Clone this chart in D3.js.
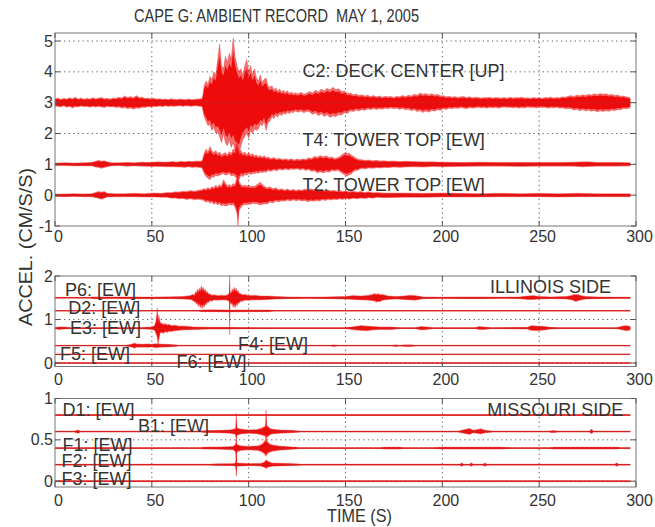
<!DOCTYPE html>
<html>
<head>
<meta charset="utf-8">
<script src="https://cdn.jsdelivr.net/npm/d3@7"></script>
<style>
  html, body { margin: 0; padding: 0; background: #fff; }
  text { font-family: "Liberation Sans", Arial, sans-serif; fill: #333; }
</style>
</head>
<body>
<script>
// ---- tick labels ----
const timeTicks = [0, 50, 100, 150, 200, 250, 300];
const towerTicks = [-1, 0, 1, 2, 3, 4, 5];
const illinoisTicks = [0, 1, 2];
const missouriTicks = [0, 0.5, 1];

// ---- record names and plot levels ----
const towerNames = ["C2: DECK CENTER [UP]", "T4: TOWER TOP [EW]", "T2: TOWER TOP [EW]"];
const towerLevels = [3, 1, 0];
const illinoisNames = ["P6: [EW]", "D2: [EW]", "E3: [EW]", "F5: [EW]", "F4: [EW]", "F6: [EW]"];
const illinoisLevels = [1.5, 1.2, 0.8, 0.4, 0.2, 0];
const missouriNames = ["D1: [EW]", "B1: [EW]", "F1: [EW]", "F2: [EW]", "F3: [EW]"];
const missouriLevels = [0.8, 0.6, 0.4, 0.2, 0];

// ---- envelopes: [time s, peak above level, peak below level] ----
const c2Env = [[0,.12,.11],[1.5,.15,.12],[3,.11,.14],[4.5,.14,.1],[6,.12,.15],[7.5,.16,.12],[9,.13,.17],[10.5,.18,.13],[12,.12,.14],[13.5,.15,.11],[15,.11,.13],[16.5,.14,.12],[18,.12,.15],[19.5,.16,.12],[21,.13,.14],[22.5,.15,.12],[24,.17,.14],[25.5,.13,.16],[27,.14,.12],[28.5,.12,.14],[30,.15,.13],[31.5,.14,.16],[33,.18,.14],[34.5,.15,.18],[36,.22,.16],[37.5,.17,.2],[39,.2,.17],[40.5,.16,.21],[42,.23,.17],[43.5,.17,.19],[45,.18,.15],[46.5,.14,.16],[48,.15,.13],[49.5,.13,.14],[51,.14,.12],[52.5,.12,.13],[54,.13,.11],[55.5,.11,.13],[57,.12,.1],[58.5,.1,.12],[60,.13,.11],[61.5,.11,.12],[63,.1,.11],[64.5,.12,.1],[66,.11,.12],[67.5,.1,.1],[69,.12,.11],[70.5,.1,.12],[72,.11,.1],[73.5,.12,.11],[75,.13,.12],[76,.14,.13],
  [76.5,.3,.3],[77,.55,.45],[78,.7,.6],[79,.6,.75],[80,.85,.7],[81,.75,.9],[82,1.0,.8],[83,.9,1.0],[84,1.4,.95],[85,1.9,1.1],[86,1.2,1.3],[87,1.1,1.0],[88,1.5,1.3],[89,1.3,1.4],[90,1.6,1.2],[91,1.4,1.45],[92,2.1,1.3],[93,1.5,1.55],[94,1.2,1.6],[95,1.0,1.7],[96,1.1,1.4],[97,.9,1.2],[98,1.2,1.1],[99,1.4,1.0],[100,1.0,1.15],[101,1.2,.9],[102,.9,1.0],[103,1.1,.85],[104,.8,.9],[105,.7,.85],[106,.9,.7],[107,.65,.75],[108,.75,.6],[109,.8,.9],[110,.55,.65],[111,.5,.6],
  [112,.55,.45],[113,.42,.52],[114,.48,.4],[115,.38,.47],[116,.44,.36],[117,.35,.42],[118,.4,.34],[119,.33,.38],[120,.39,.31],[121,.3,.36],[122,.35,.3],[123,.29,.33],[124,.32,.27],[125.5,.28,.31],[127,.34,.27],[128.5,.27,.33],[130,.31,.28],[131.5,.36,.3],[133,.31,.38],[134.5,.4,.33],[136,.35,.42],[137.5,.44,.36],[139,.38,.45],[140.5,.47,.39],[142,.41,.48],[143.5,.5,.42],[145,.42,.46],[146.5,.45,.38],[148,.36,.41],[149.5,.38,.32],[151,.3,.35],[152.5,.31,.27],[154,.26,.29],[155.5,.28,.24],[157,.23,.27],[158.5,.26,.22],[160,.22,.25],[161.5,.24,.2],[163,.2,.23],[164.5,.23,.19],[166,.19,.22],[167.5,.22,.2],[169,.18,.21],[170.5,.21,.18],[172,.19,.2],[173.5,.2,.17],[175,.17,.2],[176.5,.21,.18],[178,.19,.22],[179.5,.23,.19],[181,.2,.23],[182.5,.24,.21],[184,.22,.26],[185.5,.27,.23],[187,.24,.29],[188.5,.31,.26],[190,.27,.32],[191.5,.3,.27],[193,.26,.31],[194.5,.29,.25],[196,.25,.28],[197.5,.27,.23],[199,.22,.25],[200.5,.23,.2],[202,.19,.22],[203.5,.21,.18],[205,.18,.2],[206.5,.2,.17],[208,.17,.19],[209.5,.19,.16],[211,.2,.18],[212.5,.17,.2],[214,.19,.16],[215.5,.16,.18],[217,.18,.17],[218.5,.17,.15],[220,.15,.17],[221.5,.17,.16],[223,.16,.18],[224.5,.18,.15],[226,.15,.17],[227.5,.17,.15],[229,.16,.18],[230.5,.15,.16],[232,.17,.14],[233.5,.14,.16],[235,.18,.15],[236.5,.15,.17],[238,.17,.15],[239.5,.16,.18],[241,.18,.16],[242.5,.15,.17],[244,.16,.14],[245.5,.14,.16],[247,.17,.15],[248.5,.15,.17],[250,.16,.14],[251.5,.14,.16],[253,.17,.15],[254.5,.16,.18],[256,.18,.16],[257.5,.15,.17],[259,.17,.15],[260.5,.16,.18],[262,.19,.17],[263.5,.18,.2],[265,.21,.19],[266.5,.23,.2],[268,.2,.24],[269.5,.25,.21],[271,.22,.26],[272.5,.26,.23],[274,.23,.27],[275.5,.27,.24],[277,.25,.28],[278.5,.29,.25],[280,.26,.3],[281.5,.3,.26],[283,.27,.29],[284.5,.29,.26],[286,.25,.28],[287.5,.27,.24],[289,.23,.26],[290.5,.25,.22],[292,.21,.23],[293.5,.22,.19],[295,.19,.2],[296.5,.17,.18],[297,.15,.15]];
const t4Env = [[0,.04,.04],[5,.05,.04],[10,.04,.05],[15,.05,.05],[19,.06,.05],[21,.1,.09],[22.5,.13,.1],[24,.1,.13],[25.5,.12,.1],[27,.08,.08],[29,.05,.05],[33,.05,.04],[37,.06,.06],[41,.05,.05],[45,.07,.06],[49,.06,.07],[53,.08,.07],[57,.07,.08],[61,.09,.08],[63,.07,.09],[65,.1,.09],[67,.08,.1],[69,.1,.08],[71,.09,.1],[73,.11,.09],[75,.1,.11],[76,.12,.12],
  [77,.35,.3],[78,.5,.4],[79,.4,.45],[80,.58,.5],[81,.45,.4],[82,.38,.42],[83,.45,.35],[84,.35,.38],[85,.4,.35],[86,.3,.32],[87,.35,.3],[88,.38,.35],[89,.3,.33],[90,.42,.3],[91,.35,.38],[92,.5,.35],[93,.45,.4],[94,.72,.45],[95,.4,.5],[96,.45,.35],[97,.35,.4],[98,.4,.33],[99,.32,.35],[100,.38,.3],[101,.3,.33],[102,.35,.3],[103,.28,.3],[104,.3,.27],[105,.25,.29],[106,.29,.25],[107,.24,.27],[108,.28,.24],[109,.22,.26],
  [110,.24,.2],[111.5,.19,.23],[113,.22,.18],[114.5,.17,.21],[116,.2,.16],[117.5,.16,.19],[119,.18,.15],[120.5,.15,.18],[122,.18,.15],[123.5,.14,.17],[125,.17,.14],[126.5,.15,.18],[128,.18,.15],[129.5,.16,.2],[131,.21,.17],[132.5,.19,.23],[134,.26,.21],[135.5,.23,.28],[137,.29,.24],[138.5,.24,.28],[140,.28,.23],[141.5,.22,.26],[143,.24,.2],[144.5,.19,.22],[146,.22,.19],[147,.25,.23],[148,.3,.28],[149,.35,.32],[150,.38,.36],[151,.34,.38],[152,.36,.33],[153,.3,.32],[154,.26,.24],[155,.22,.2],[156,.18,.2],[157,.16,.17],[158.5,.15,.13],[160,.13,.15],[162,.14,.12],[164,.12,.13],[166,.13,.11],[168,.11,.12],[170,.12,.1],[172,.1,.11],[175,.11,.09],[178,.09,.1],[181,.1,.09],[185,.09,.08],[190,.08,.09],[195,.08,.07],[200,.07,.08],[210,.06,.07],[220,.07,.06],[230,.06,.06],[240,.06,.07],[250,.06,.06],[260,.06,.06],[268,.07,.06],[272,.08,.08],[276,.08,.07],[280,.06,.06],[290,.06,.06],[297,.05,.05]];
const t2Env = [[0,.04,.04],[5,.04,.05],[10,.05,.04],[15,.04,.05],[19,.05,.05],[21,.09,.08],[22.5,.12,.1],[24,.1,.13],[25.5,.12,.1],[27,.06,.06],[31,.05,.05],[36,.05,.05],[41,.06,.05],[46,.05,.06],[51,.07,.06],[55,.06,.07],[58,.09,.07],[60,.08,.1],[62,.11,.09],[64,.1,.12],[66,.13,.11],[68,.12,.14],[70,.15,.12],[72,.13,.15],[74,.16,.13],[76,.18,.16],[77,.22,.18],[78,.19,.23],[79,.25,.2],[80,.2,.26],[81,.28,.22],[82,.24,.3],[83,.32,.25],[84,.27,.32],[85,.34,.28],[86,.3,.35],[87,.5,.32],[88,.4,.35],[89,.3,.34],[90,.35,.3],[91,.3,.33],[92,.38,.3],[93,.35,.4],[94,.62,.6],[94.5,.7,1.0],[95,.45,.5],[96,.35,.4],[97,.3,.33],[98,.33,.3],[99,.3,.32],[100,.32,.28],[101,.28,.3],[102,.3,.26],[103,.28,.28],[104,.33,.27],[105,.38,.3],[106,.42,.32],[107,.35,.3],
  [108,.3,.28],[109.5,.24,.29],[111,.27,.22],[112.5,.21,.25],[114,.24,.19],[115.5,.18,.22],[117,.21,.18],[118.5,.17,.2],[120,.2,.16],[121.5,.16,.19],[123,.19,.15],[124.5,.15,.18],[126,.18,.16],[127.5,.16,.19],[129,.2,.17],[130.5,.17,.21],[132,.21,.18],[133.5,.18,.2],[135,.2,.17],[136.5,.16,.19],[138,.18,.15],[139.5,.15,.17],[141,.17,.14],[142.5,.14,.16],[144,.16,.13],[145.5,.13,.15],[147,.15,.12],[148.5,.12,.14],[150,.14,.11],[152,.11,.13],[154,.13,.1],[156,.1,.12],[158,.12,.09],[160,.09,.11],[162,.11,.08],[164,.08,.1],[166,.09,.07],[170,.07,.08],[180,.07,.07],[190,.06,.07],[200,.07,.06],[210,.06,.06],[220,.05,.06],[230,.06,.05],[240,.05,.05],[250,.06,.05],[260,.05,.06],[270,.06,.05],[280,.05,.05],[290,.05,.05],[297,.05,.05]];

const p6Env = [[0,.01,.01],[18,.01,.01],[20,.02,.02],[30,.02,.015],[40,.02,.02],[50,.015,.02],[60,.025,.02],[66,.03,.03],[70,.05,.04],[71,.08,.06],[72,.06,.1],[72.5,.14,.09],[73,.1,.15],[73.5,.2,.12],[74,.13,.2],[74.5,.22,.15],[75,.16,.23],[75.5,.27,.18],[76,.2,.25],[76.5,.24,.18],[77,.17,.22],[77.5,.2,.14],[78,.13,.17],[78.5,.15,.1],[79,.1,.12],[80,.09,.07],[81,.06,.08],[82,.07,.05],[84,.05,.06],[86,.06,.05],[88,.05,.05],[89.5,.08,.07],[90,.12,.1],[90.2,.52,.85],[90.4,.14,.12],[91,.12,.15],[91.5,.2,.14],[92,.16,.22],[92.5,.24,.17],[93,.19,.23],[93.5,.22,.16],[94,.15,.19],[94.5,.17,.12],[95,.11,.13],[96,.09,.08],[97,.07,.08],[98,.08,.06],[100,.05,.06],[103,.06,.05],[106,.04,.05],[110,.04,.04],[114,.03,.03],[120,.02,.02],[130,.015,.015],[140,.02,.02],[150,.03,.03],[154,.05,.04],[158,.04,.05],[162,.06,.06],[164,.08,.07],[165,.1,.08],[166,.08,.1],[167,.1,.09],[168,.07,.09],[169,.08,.06],[172,.04,.04],[176,.03,.03],[180,.04,.04],[183,.06,.05],[186,.05,.06],[190,.02,.02],[200,.015,.015],[210,.02,.02],[220,.02,.02],[230,.015,.015],[240,.02,.02],[244,.04,.04],[247,.05,.04],[250,.03,.03],[256,.02,.02],[264,.03,.03],[267,.06,.05],[268,.08,.07],[269,.07,.09],[270,.08,.07],[271,.06,.06],[274,.03,.03],[280,.02,.02],[290,.015,.015],[297,.015,.015]];
const d2Env = [[0,.006,.006],[74,.006,.006],[76,.02,.02],[80,.025,.02],[90,.02,.025],[100,.02,.02],[110,.02,.02],[113,.006,.006],[297,.006,.006]];
const e3Env = [[0,.01,.01],[2,.03,.03],[5,.03,.02],[8,.01,.01],[30,.01,.01],[45,.015,.015],[50,.03,.03],[51.5,.06,.05],[52.3,.2,.15],[52.8,.47,.2],[53.2,.15,.37],[53.6,.3,.28],[54.2,.15,.12],[55,.12,.1],[56,.09,.12],[57,.11,.08],[58,.08,.1],[59,.09,.07],[60,.06,.08],[62,.07,.06],[64,.05,.05],[66,.05,.04],[69,.04,.04],[72,.03,.03],[80,.02,.02],[90,.02,.02],[96,.015,.015],[110,.01,.01],[150,.01,.01],[155,.04,.04],[158,.06,.05],[161,.05,.06],[164,.04,.04],[168,.03,.03],[174,.03,.03],[178,.01,.01],[186,.01,.01],[189,.04,.04],[192,.03,.03],[195,.01,.01],[217,.01,.01],[219,.04,.03],[222,.03,.03],[225,.01,.01],[244,.02,.02],[246,.06,.05],[249,.05,.06],[253,.04,.04],[256,.02,.02],[260,.01,.01],[290,.01,.01],[293,.05,.04],[295,.06,.06],[297,.04,.04]];
const f5Env = [[0,.008,.008],[36,.008,.008],[38,.02,.02],[40,.04,.04],[41,.06,.06],[42,.04,.04],[45,.035,.035],[48,.04,.04],[50,.03,.03],[52,.045,.05],[55,.035,.035],[58,.03,.03],[62,.02,.02],[64,.008,.008],[142,.008,.008],[144,.02,.02],[146,.008,.008],[174,.008,.008],[176,.02,.02],[178,.008,.008],[181,.02,.02],[184,.02,.02],[186,.008,.008],[297,.008,.008]];
const f4Env = [[0,.006,.006],[297,.006,.006]];
const f6Env = [[0,.006,.006],[297,.006,.006]];

const d1Env = [[0,.006,.006],[297,.006,.006]];
const b1Env = [[0,.006,.006],[10,.006,.006],[12,.02,.02],[13,.006,.006],[75,.006,.006],[78,.012,.012],[85,.015,.015],[90,.02,.02],[92.5,.03,.03],[93.3,.04,.04],[93.6,.22,.12],[93.9,.05,.05],[94.5,.04,.04],[96,.03,.03],[100,.02,.02],[104,.025,.025],[106.5,.04,.04],[108,.06,.05],[108.7,.07,.06],[109,.26,.1],[109.3,.08,.07],[110,.06,.06],[111,.04,.04],[112,.03,.03],[116,.02,.02],[122,.015,.015],[127,.006,.006],[208,.006,.006],[210,.015,.015],[214,.04,.035],[216,.015,.015],[220,.035,.03],[222,.015,.015],[226,.006,.006],[255,.006,.006],[257,.012,.012],[260,.006,.006],[276,.006,.006],[277,.03,.025],[278,.006,.006],[297,.006,.006]];
const f1Env = [[0,.006,.006],[75,.006,.006],[77,.012,.012],[85,.015,.015],[92,.02,.02],[93.3,.05,.05],[93.6,.1,.22],[93.9,.05,.05],[94.5,.04,.04],[96,.03,.03],[100,.02,.02],[105,.03,.03],[107,.05,.05],[108,.08,.07],[108.7,.1,.09],[109,.12,.1],[109.4,.09,.08],[110,.07,.06],[111,.05,.05],[112,.04,.04],[116,.025,.025],[124,.012,.012],[126,.006,.006],[168,.006,.006],[170,.012,.012],[178,.012,.012],[180,.006,.006],[195,.006,.006],[200,.012,.012],[230,.012,.012],[235,.006,.006],[255,.006,.006],[258,.012,.012],[290,.012,.012],[292,.006,.006],[297,.006,.006]];
const f2Env = [[0,.006,.006],[80,.006,.006],[82,.01,.01],[92,.012,.012],[93.3,.02,.02],[93.6,.1,.14],[93.9,.02,.02],[100,.012,.012],[106,.015,.015],[108,.03,.03],[108.7,.05,.04],[109,.06,.05],[109.5,.05,.04],[110,.04,.03],[112,.02,.02],[125,.01,.01],[127,.006,.006],[209,.006,.006],[210,.02,.02],[211,.006,.006],[214,.006,.006],[215,.02,.02],[216,.006,.006],[221,.006,.006],[222,.02,.02],[223,.006,.006],[289,.006,.006],[290,.02,.02],[291,.006,.006],[297,.006,.006]];
const f3Env = [[0,.006,.006],[297,.006,.006]];

// ---- page layout ----
const W = 655, H = 527;
const left = 55, right = 636;
const svg = d3.select("body").append("svg").attr("width", W).attr("height", H);
const x = d3.scaleLinear().domain([0, 300]).range([left, right]);

const panels = [
  { id: "tower", top: 33, bottom: 226, domain: [-1, 5.26], yTicks: towerTicks, tickBase: 242,
    envs: [c2Env, t4Env, t2Env], levels: towerLevels, names: towerNames,
    labelAt: [[127.8, 3.84], [127.8, 1.6], [127.8, 0.14]], side: null },
  { id: "illinois", top: 276, bottom: 366.5, domain: [-0.08, 2], yTicks: illinoisTicks, tickBase: 385,
    envs: [p6Env, d2Env, e3Env, f5Env, f4Env, f6Env], levels: illinoisLevels, names: illinoisNames,
    labelAt: [[5.2, 1.53], [6.9, 1.12], [7.7, 0.665], [2.6, 0.08], [94.5, 0.31], [62.7, -0.12]],
    side: { text: "ILLINOIS SIDE", t: 224.6, v: 1.6 } },
  { id: "missouri", top: 398.5, bottom: 487, domain: [-0.07, 1], yTicks: missouriTicks, tickBase: 505.5,
    envs: [d1Env, b1Env, f1Env, f2Env, f3Env], levels: missouriLevels, names: missouriNames,
    labelAt: [[3.9, 0.79], [42.9, 0.6], [3.9, 0.37], [3.4, 0.173], [3.4, -0.05]],
    side: { text: "MISSOURI SIDE", t: 223.2, v: 0.79 } }
];

const red = "#ee0b0b";
const coreShare = 0.8;   // dense core of each oscillating trace, drawn over its peak envelope

panels.forEach(p => {
  const y = d3.scaleLinear().domain(p.domain).range([p.bottom, p.top]);
  const g = svg.append("g");

  // dotted grid
  g.selectAll("line.gx").data(timeTicks.filter(t => t > 0 && t < 300)).join("line")
    .attr("x1", d => x(d)).attr("x2", d => x(d)).attr("y1", p.top).attr("y2", p.bottom)
    .attr("stroke", "#555").attr("stroke-width", 1).attr("stroke-dasharray", "1.2,3.4");
  g.selectAll("line.gy").data(p.yTicks.filter(v => y(v) > p.top + 0.5 && y(v) < p.bottom - 0.5)).join("line")
    .attr("x1", left).attr("x2", right).attr("y1", d => y(d)).attr("y2", d => y(d))
    .attr("stroke", "#555").attr("stroke-width", 1).attr("stroke-dasharray", "1.2,3.4");

  // traces
  const clipId = "clip-" + p.id;
  svg.append("clipPath").attr("id", clipId).append("rect")
    .attr("x", left).attr("y", p.top - 2).attr("width", right - left).attr("height", p.bottom - p.top + 2);
  const tg = g.append("g").attr("clip-path", `url(#${clipId})`);
  p.envs.forEach((env, i) => {
    const base = p.levels[i];
    const peak = d3.area().x(d => x(d[0])).y1(d => y(base + d[1])).y0(d => y(base - d[2]));
    const core = d3.area().x(d => x(d[0])).y1(d => y(base + d[1] * coreShare)).y0(d => y(base - d[2] * coreShare));
    const level = d3.line().x(d => x(d[0])).y(() => y(base));
    tg.append("path").datum(env).attr("d", peak)
      .attr("fill", red).attr("fill-opacity", 0.6).attr("stroke", red).attr("stroke-opacity", 0.5)
      .attr("stroke-width", 0.6).attr("stroke-linejoin", "miter");
    tg.append("path").datum(env).attr("d", core).attr("fill", red);
    tg.append("path").datum(env).attr("d", level).attr("fill", "none")
      .attr("stroke", "#d22020").attr("stroke-width", 1);
  });

  // frame
  g.append("rect").attr("x", left).attr("y", p.top).attr("width", right - left).attr("height", p.bottom - p.top)
    .attr("fill", "none").attr("stroke", "#777").attr("stroke-width", 1);

  // inward ticks on all four sides
  const tk = 5;
  timeTicks.forEach(t => {
    g.append("line").attr("x1", x(t)).attr("x2", x(t)).attr("y1", p.bottom).attr("y2", p.bottom - tk).attr("stroke", "#555");
    g.append("line").attr("x1", x(t)).attr("x2", x(t)).attr("y1", p.top).attr("y2", p.top + tk).attr("stroke", "#555");
  });
  p.yTicks.forEach(v => {
    g.append("line").attr("x1", left).attr("x2", left + tk).attr("y1", y(v)).attr("y2", y(v)).attr("stroke", "#555");
    g.append("line").attr("x1", right).attr("x2", right - tk).attr("y1", y(v)).attr("y2", y(v)).attr("stroke", "#555");
  });

  // tick labels
  const xAxis = d3.axisBottom(x).tickValues(timeTicks).tickFormat(d => String(d)).tickSize(0);
  const xa = svg.append("g").attr("transform", `translate(0,${p.tickBase})`).call(xAxis);
  xa.select(".domain").remove();
  xa.selectAll("text").attr("y", 0).attr("dy", null).attr("x", 3)
    .style("font-size", "16px").style("font-family", "'Liberation Sans', Arial, sans-serif").attr("fill", "#333");

  const yAxis = d3.axisLeft(y).tickValues(p.yTicks).tickFormat(d => String(d)).tickSize(0).tickPadding(2);
  const ya = svg.append("g").attr("transform", `translate(${left},0)`).call(yAxis);
  ya.select(".domain").remove();
  ya.selectAll("text").style("font-size", "16px").style("font-family", "'Liberation Sans', Arial, sans-serif").attr("fill", "#333");

  // record names
  p.names.forEach((n, i) => {
    const [t, v] = p.labelAt[i];
    svg.append("text").attr("x", x(t)).attr("y", y(v)).style("font-size", "18px").text(n);
  });
  if (p.side) {
    svg.append("text").attr("x", x(p.side.t)).attr("y", y(p.side.v)).style("font-size", "18px").text(p.side.text);
  }
});

// title and axis titles
svg.append("text").attr("x", 134).attr("y", 22).style("font-size", "18px")
  .attr("textLength", 285).attr("lengthAdjust", "spacingAndGlyphs").style("white-space", "pre")
  .text("CAPE G: AMBIENT RECORD  MAY 1, 2005");
svg.append("text").attr("x", 327).attr("y", 522).style("font-size", "18px")
  .attr("textLength", 65).attr("lengthAdjust", "spacingAndGlyphs").text("TIME (S)");
svg.append("text").attr("transform", "translate(32,247) rotate(-90)").attr("text-anchor", "middle")
  .style("font-size", "19px").attr("textLength", 158).attr("lengthAdjust", "spacingAndGlyphs")
  .text("ACCEL. (CM/S/S)");
</script>
</body>
</html>
